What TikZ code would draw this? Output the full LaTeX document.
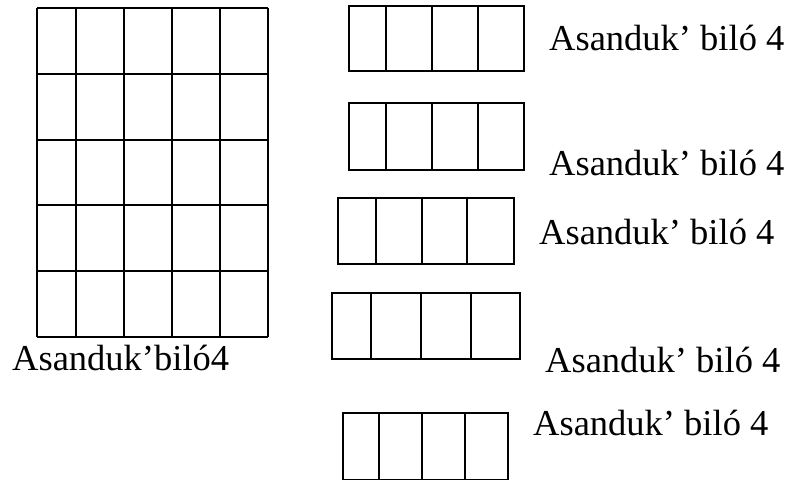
\documentclass[tikz,border=0pt]{standalone}
\usepackage{fontspec}
\setmainfont{Liberation Serif}
\begin{document}
\begin{tikzpicture}[x=1bp,y=-1bp,
  gridline/.style={line width=2bp,black},
  boxline/.style={line width=1.8bp,black},
  lbl/.style={anchor=base west,inner sep=0pt,font=\fontsize{36.5bp}{40bp}\selectfont}]
\useasboundingbox (0,0) rectangle (791,481);
% big grid
\foreach \x in {37,76,124,172,220,268} \draw[gridline] (\x,8) -- (\x,337);
\foreach \y in {8,74,140,205,271,337} \draw[gridline] (37,\y) -- (268,\y);
% small boxes: left, right, top, bottom, dividers
\foreach \l/\r/\t/\b/\da/\db/\dc in {
  349/524/6/71/386/432/478,
  349/524/103/170/386/432/478,
  338/514/198/264/376/422/467,
  332/520/293/359/371/421/471,
  343/508/413/479.5/379/422/465}{
  \draw[boxline] (\l,\t) rectangle (\r,\b);
  \foreach \d in {\da,\db,\dc} \draw[boxline] (\d,\t) -- (\d,\b);
}
\node[lbl] (t1) at (549,51) {Asanduk’ biló 4};
\node[lbl] (t2) at (549,176) {Asanduk’ biló 4};
\node[lbl] (t3) at (539,245) {Asanduk’ biló 4};
\node[lbl] (t4) at (545,372) {Asanduk’ biló 4};
\node[lbl] (t5) at (533,435) {Asanduk’ biló 4};
\node[lbl] (t6) at (12,370) {Asanduk’biló4};
\end{tikzpicture}
\end{document}
